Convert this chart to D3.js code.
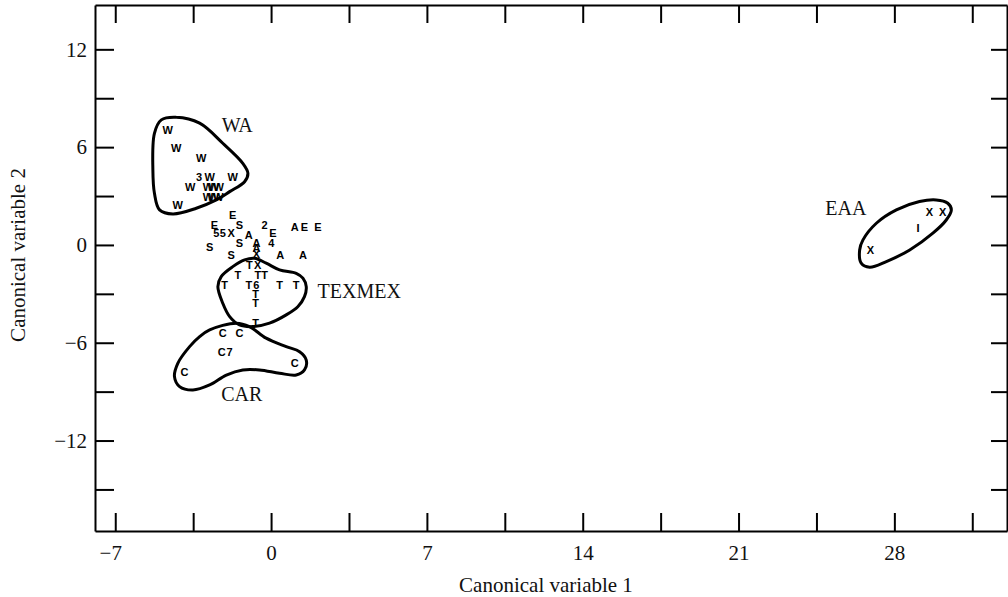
<!DOCTYPE html>
<html><head><meta charset="utf-8">
<script src="https://cdn.jsdelivr.net/npm/d3@7"></script>
<style>
body{margin:0;background:#fff;}
svg{display:block;}
</style></head>
<body><svg id="c" width="1008" height="597"></svg>
<script>
// ---- data ----
const xTicks = [-7,-3.5,0,3.5,7,10.5,14,17.5,21,24.5,28,31.5];
const xTickLabels = [-7,0,7,14,21,28];
const yTicks = [-15,-12,-9,-6,-3,0,3,6,9,12];
const yTickLabels = [-12,-6,0,6,12];
const xTitle = "Canonical variable 1";
const yTitle = "Canonical variable 2";

const pointLabels = ["W","W","W","3","W","W","W","W","W","W","W","W","W","W",
  "E","E","S","2","E","A","E","E","5","5","X","A","S","S","A","4","S","A","A","A","X",
  "T","X","T","T","T","T","T","6","T","T","T","T","T",
  "C","C","C","7","C","C",
  "X","X","X","I"];
const pointX = [-4.64,-4.26,-3.14,-3.24,-2.76,-1.72,-3.63,-2.84,-2.58,-2.35,-2.84,-2.58,-2.37,-4.19,
  -1.72,-2.54,-1.42,-0.29,0.08,1.06,1.50,2.10,-2.46,-2.17,-1.79,-1.00,-2.76,-1.42,-0.66,0.01,-1.79,0.41,1.43,-0.66,-0.66,
  -0.97,-0.60,-1.49,-0.59,-0.29,-2.09,-1.00,-0.66,0.38,1.13,-0.70,-0.70,-0.70,
  -2.17,-1.42,-2.22,-1.86,-3.89,1.06,
  26.92,29.58,30.17,29.06];
const pointY = [7.06,5.93,5.32,4.19,4.19,4.19,3.58,3.58,3.58,3.54,2.93,2.93,2.93,2.45,
  1.84,1.23,1.23,1.23,0.72,1.12,1.12,1.12,0.72,0.72,0.72,0.61,-0.10,0.10,0.10,0.10,-0.61,-0.61,-0.61,-0.20,-0.55,
  -1.23,-1.23,-1.84,-1.84,-1.84,-2.45,-2.45,-2.45,-2.45,-2.45,-3.00,-3.58,-4.80,
  -5.42,-5.42,-6.55,-6.55,-7.77,-7.26,
  -0.31,2.04,2.04,1.02];

const groupNames = ["WA","TEXMEX","CAR","EAA"];
const groupNameX = [-2.22,2.09,-2.24,24.9];
const groupNameY = [7.36,-2.82,-9.14,2.27];

const waContourX = [-4.93,-4.26,-3.21,-2.17,-1.27,-1.04,-1.19,-1.86,-2.46,-3.36,-4.41,-5.01,-5.24,-5.31,-5.24];
const waContourY = [7.67,7.83,7.47,6.24,5.01,4.40,3.88,3.27,2.76,2.25,1.90,2.15,3.17,4.60,6.85];
const texContourX = [-0.74,-0.22,0.38,1.13,1.43,1.58,1.50,1.20,0.68,-0.07,-0.82,-1.42,-1.86,-2.17,-2.39,-2.24,-1.72,-1.19];
const texContourY = [-0.82,-1.12,-1.53,-1.74,-2.04,-2.56,-3.17,-3.79,-4.29,-4.80,-5.01,-4.91,-4.40,-3.58,-2.56,-1.94,-1.33,-0.92];
const carContourX = [-2.76,-1.56,-0.97,-0.22,0.68,1.28,1.58,1.50,1.13,0.38,-0.52,-1.27,-2.01,-2.76,-3.51,-4.11,-4.34,-4.19,-3.66,-3.21];
const carContourY = [-5.21,-4.80,-5.01,-5.72,-6.24,-6.55,-7.06,-7.67,-7.98,-7.87,-7.67,-7.67,-7.98,-8.59,-8.90,-8.69,-8.08,-7.26,-6.24,-5.63];
const eaaContourX = [26.44,26.59,27.19,28.09,29.13,29.88,30.40,30.56,30.33,29.73,28.69,27.64,26.89,26.51];
const eaaContourY = [-0.31,0.31,1.33,2.15,2.66,2.76,2.56,2.15,1.53,0.72,-0.31,-1.02,-1.37,-1.12];

// ---- layout ----
const L = 95, R = 1007, T = 5, B = 531;
const svg = d3.select("#c");
const x = d3.scaleLinear().domain([-7.91, 33.06]).range([L, R]);
const y = d3.scaleLinear().domain([-17.55, 14.72]).range([B, T]);
const serif = "'Liberation Serif','Times New Roman',serif";
const fmt = v => (v < 0 ? "\u2212" + Math.abs(v) : String(v));

function styleAxis(g){
  g.selectAll("path.domain").attr("stroke","#000").attr("stroke-width",2);
  g.selectAll(".tick line").attr("stroke","#000").attr("stroke-width",2);
  g.selectAll("text").attr("font-family",serif).attr("font-size",21).attr("fill","#111");
}

const gB = svg.append("g").attr("transform",`translate(0,${B})`)
  .call(d3.axisBottom(x).tickValues(xTicks).tickSize(-18).tickSizeOuter(0).tickPadding(14)
    .tickFormat(v => xTickLabels.includes(v) ? fmt(v) : ""));
styleAxis(gB);
gB.selectAll(".tick text").attr("dx", d => d < 0 ? -5 : 0);

const gT = svg.append("g").attr("transform",`translate(0,${T})`)
  .call(d3.axisTop(x).tickValues(xTicks).tickSize(-18).tickSizeOuter(0).tickFormat(""));
styleAxis(gT);

const gL = svg.append("g").attr("transform",`translate(${L},0)`)
  .call(d3.axisLeft(y).tickValues(yTicks).tickSize(-19).tickSizeOuter(0).tickPadding(8)
    .tickFormat(v => yTickLabels.includes(v) ? fmt(v) : ""));
styleAxis(gL);

const gR = svg.append("g").attr("transform",`translate(${R},0)`)
  .call(d3.axisRight(y).tickValues(yTicks).tickSize(-16).tickSizeOuter(0).tickFormat(""));
styleAxis(gR);

// titles
svg.append("text").attr("x",(L+R)/2 - 5).attr("y",592).attr("text-anchor","middle")
  .attr("font-family",serif).attr("font-size",21).attr("fill","#111").text(xTitle);
svg.append("text").attr("transform","translate(25,255) rotate(-90)").attr("text-anchor","middle")
  .attr("font-family",serif).attr("font-size",21).attr("fill","#111").text(yTitle);

// contours
const line = d3.line().x(d => x(d[0])).y(d => y(d[1])).curve(d3.curveCatmullRomClosed.alpha(0.5));
const contours = [[waContourX,waContourY],[texContourX,texContourY],[carContourX,carContourY],[eaaContourX,eaaContourY]];
svg.append("g").selectAll("path").data(contours).join("path")
  .attr("d", c => line(c[0].map((v,i) => [v, c[1][i]])))
  .attr("fill","none").attr("stroke","#000").attr("stroke-width",3);

// points
svg.append("g").selectAll("text").data(pointLabels).join("text")
  .attr("x",(d,i) => x(pointX[i])).attr("y",(d,i) => y(pointY[i]))
  .attr("text-anchor","middle").attr("dominant-baseline","central")
  .attr("font-family","'Liberation Sans',Arial,sans-serif").attr("font-weight","bold")
  .attr("font-size",11).attr("fill","#000").text(d => d);

// group names
svg.append("g").selectAll("text").data(groupNames).join("text")
  .attr("x",(d,i) => x(groupNameX[i])).attr("y",(d,i) => y(groupNameY[i]))
  .attr("dominant-baseline","central")
  .attr("font-family",serif).attr("font-size",20).attr("fill","#111").text(d => d);
</script>
</body></html>
